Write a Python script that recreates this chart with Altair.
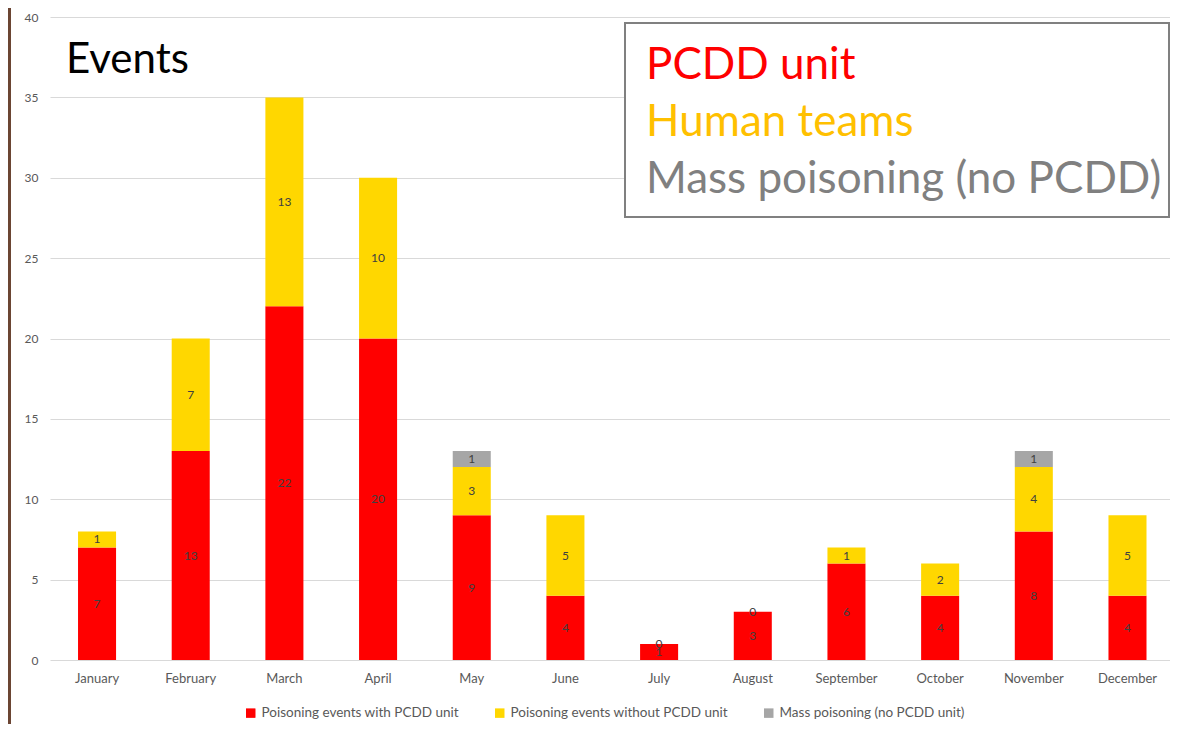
import altair as alt
import pandas as pd

months = ["January", "February", "March", "April", "May", "June", "July",
          "August", "September", "October", "November", "December"]
pcdd = [7, 13, 22, 20, 9, 4, 1, 3, 6, 4, 8, 4]
human = [1, 7, 13, 10, 3, 5, 0, 0, 1, 2, 4, 5]
mass = [None, None, None, None, 1, None, None, None, None, None, 1, None]

series = ["Poisoning events with PCDD unit",
          "Poisoning events without PCDD unit",
          "Mass poisoning (no PCDD unit)"]
colors = ["#FF0000", "#FFD700", "#A6A6A6"]

box_lines = ["PCDD unit", "Human teams", "Mass poisoning (no PCDD)"]
box_colors = ["#FF0000", "#FFC000", "#808080"]

rows = []
for i, m in enumerate(months):
    for k, vals in enumerate([pcdd, human, mass]):
        v = vals[i]
        if v is None:
            continue
        rows.append({"month": m, "series": series[k], "idx": k, "value": v})
df = pd.DataFrame(rows)

FONT = "Lato"
W, H = 1120, 643

x_scale = alt.Scale(paddingInner=0.594, paddingOuter=0.275, align=0.544)

x_enc = alt.X("month:N", sort=months, scale=x_scale,
              axis=alt.Axis(title=None, labelAngle=0, domain=False, ticks=False,
                            labelPadding=12, labelFontSize=13, labelColor="#595959",
                            labelFont=FONT, grid=False))

base = alt.Chart(df)

bars = base.mark_bar().encode(
    x=x_enc,
    y=alt.Y("sum(value):Q", stack="zero",
            scale=alt.Scale(domain=[0, 40], nice=False),
            axis=alt.Axis(title=None, values=list(range(0, 41, 5)), domain=False,
                          ticks=False, labelPadding=12, labelFontSize=12,
                          labelColor="#595959", labelFont=FONT,
                          gridColor="#D9D9D9", gridWidth=1)),
    color=alt.Color("series:N", sort=series,
                    scale=alt.Scale(domain=series, range=colors),
                    legend=alt.Legend(title=None, orient="none", direction="horizontal",
                                      legendX=194, legendY=689, symbolType="square",
                                      symbolSize=90, symbolStrokeWidth=0,
                                      labelFontSize=13.5, labelColor="#595959",
                                      labelFont=FONT, columnPadding=34,
                                      labelOffset=4, padding=0, labelLimit=0)),
    order=alt.Order("idx:Q", sort="ascending"),
)

labels = base.transform_stack(
    stack="value", groupby=["month"], as_=["v0", "v1"],
    sort=[alt.SortField("idx", order="ascending")]
).transform_calculate(
    mid="(datum.v0 + datum.v1) / 2"
).mark_text(fontSize=12, color="#404040", font=FONT, baseline="middle").encode(
    x=alt.X("month:N", sort=months),
    y=alt.Y("mid:Q"),
    text=alt.Text("value:Q"),
)

one = pd.DataFrame({"a": [0]})

strip = alt.Chart(one).mark_rect(color="#6B4533").encode(
    x=alt.value(-42), x2=alt.value(-39), y=alt.value(-17), y2=alt.value(710))

title = alt.Chart(one).mark_text(text="Events", font=FONT, fontSize=42,
                                 color="#000000", align="left",
                                 baseline="alphabetic").encode(
    x=alt.value(16), y=alt.value(56))

box = alt.Chart(one).mark_rect(fill="white", stroke="#808080", strokeWidth=2).encode(
    x=alt.value(575), x2=alt.value(1119), y=alt.value(6), y2=alt.value(200))

box_df = pd.DataFrame({"t": box_lines, "c": box_colors, "yy": [62, 119, 176]})
box_text = alt.Chart(box_df).mark_text(font=FONT, fontSize=44, align="left",
                                       baseline="alphabetic").encode(
    x=alt.value(596),
    y=alt.Y("yy:Q", scale=None),
    text="t:N",
    color=alt.Color("c:N", scale=None),
)

chart = alt.layer(strip, bars, labels, title, box, box_text).resolve_scale(
    color="independent"
).properties(
    width=W, height=H,
    autosize=alt.AutoSizeParams(type="none"),
    padding={"left": 42, "top": 9, "right": 0, "bottom": 64},
).configure_view(stroke=None)

chart.save("out.html", embed_options={"renderer": "svg", "actions": False})
